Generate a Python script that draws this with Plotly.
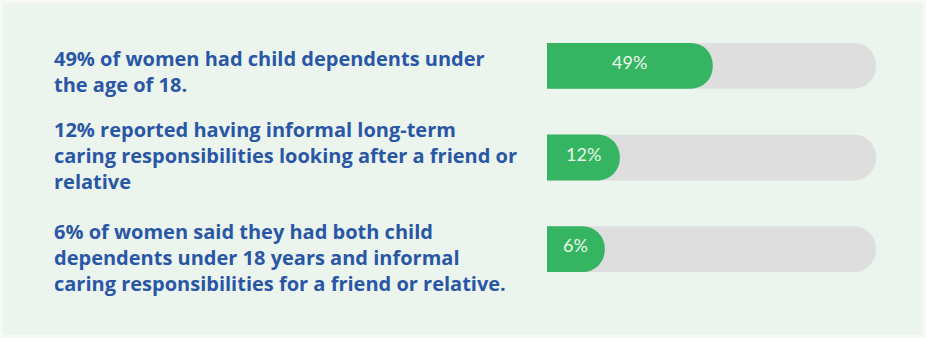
import plotly.graph_objects as go

# Survey findings shown as progress bars
statements = [
    "49% of women had child dependents under<br>the age of 18.",
    "12% reported having informal long-term<br>caring responsibilities looking after a friend or<br>relative",
    "6% of women said they had both child<br>dependents under 18 years and informal<br>caring responsibilities for a friend or relative.",
]
percentages = [49, 12, 6]
labels = ["49%", "12%", "6%"]

rows = [0, 1, 2]
PAD = 17          # fixed lead-in so small bars still show their label
HIDDEN = 25       # extra length hidden left of the axis so the left end stays square
TRACK_END = 114   # right end of the grey track

W, H = 926, 338
ML, MR, MT, MB = 547, 50, 20, 43

BG = "#ECF4EE"
TRACK = "#DEDEDE"
GREEN = "#35B561"
BLUE = "#2957A6"

start = -PAD - HIDDEN

fig = go.Figure()

# grey track behind each bar
fig.add_trace(go.Bar(
    y=rows, x=[TRACK_END - start] * len(rows), base=[start] * len(rows),
    orientation="h", width=0.5,
    marker=dict(color=TRACK, cornerradius="50%", line=dict(width=0)),
    hoverinfo="skip", showlegend=False,
))

# green value bar
fig.add_trace(go.Bar(
    y=rows, x=[p - start for p in percentages], base=[start] * len(rows),
    orientation="h", width=0.5,
    marker=dict(color=GREEN, cornerradius="50%", line=dict(width=0)),
    showlegend=False,
))

# value label centred on the visible part of each green bar
for r, p, lab in zip(rows, percentages, labels):
    fig.add_annotation(
        x=(p - PAD) / 2, xref="x", y=r, yref="y", text=lab,
        showarrow=False, xanchor="center", yanchor="middle", yshift=4,
        font=dict(family="Lato", size=18, color="#E9F7EC"),
    )

# statement text to the left of each bar
pw = W - ML - MR
x_text = (52 - ML) / pw
yshifts = [-6, 2, -8]
for r, s, dy in zip(rows, statements, yshifts):
    fig.add_annotation(
        x=x_text, xref="paper", y=r, yref="y", text=s,
        xanchor="left", yanchor="middle", align="left", showarrow=False,
        yshift=dy,
        font=dict(family="Open Sans", size=20, color=BLUE, weight=700),
    )

# thin pale frame around the panel
ph = H - MT - MB
fig.add_shape(
    type="rect", xref="paper", yref="paper",
    x0=(1.5 - ML) / pw, x1=(W - 1.5 - ML) / pw,
    y0=-(H - 1.5 - MT - ph) / ph, y1=1 + (MT - 1.5) / ph,
    line=dict(color="#F7F9F7", width=3), fillcolor="rgba(0,0,0,0)", layer="below",
)

fig.update_layout(
    width=W, height=H,
    margin=dict(l=ML, r=MR, t=MT, b=MB),
    paper_bgcolor=BG, plot_bgcolor=BG,
    barmode="overlay",
    xaxis=dict(range=[-PAD, TRACK_END], visible=False, fixedrange=True),
    yaxis=dict(range=[2.5, -0.5], visible=False, fixedrange=True),
)

fig.write_html("out.html")
